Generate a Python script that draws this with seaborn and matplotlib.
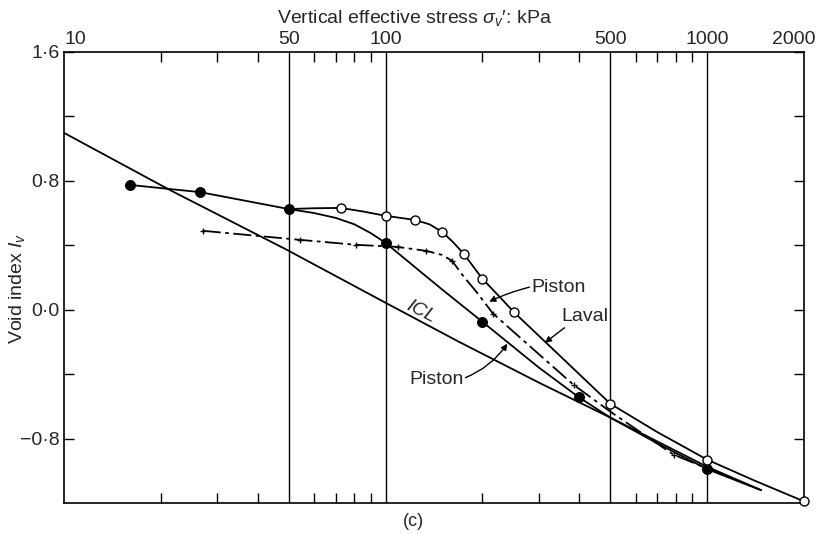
import matplotlib
matplotlib.use("Agg")
import matplotlib.pyplot as plt
import matplotlib.transforms as mtransforms
import seaborn as sns
import pandas as pd
from matplotlib.ticker import FixedLocator, FixedFormatter, NullFormatter

# Measured points (vertical effective stress in kPa, void index Iv)
piston_a_stress = [16, 26.5, 50, 100, 200, 400, 1000]
piston_a_iv = [0.775, 0.73, 0.625, 0.415, -0.075, -0.545, -0.99]

laval_stress = [72.5, 100, 123, 150, 175, 200, 250, 500, 1000, 2000]
laval_iv = [0.632, 0.583, 0.558, 0.483, 0.347, 0.192, -0.013, -0.584, -0.931, -1.19]

piston_b_stress = [27, 54, 81, 109, 134, 161, 216, 384, 786]
piston_b_iv = [0.49, 0.434, 0.403, 0.39, 0.365, 0.303, -0.025, -0.466, -0.90]

# Traced curves through the measured points
piston_a_curve_stress = [16, 26.5, 50, 60, 70, 80, 90, 100, 125, 150, 200, 300, 400,
                         500, 700, 1000, 1470]
piston_a_curve_iv = [0.775, 0.73, 0.625, 0.60, 0.57, 0.53, 0.475, 0.415, 0.255, 0.125,
                     -0.075, -0.36, -0.545, -0.67, -0.83, -0.99, -1.12]

laval_curve_stress = [50, 60, 72.5, 85, 100, 123, 137, 150, 162, 175, 187, 200, 225, 250,
                      350, 500, 700, 1000, 1400, 2000]
laval_curve_iv = [0.625, 0.63, 0.632, 0.61, 0.583, 0.558, 0.53, 0.483, 0.42, 0.347, 0.27,
                  0.192, 0.085, -0.013, -0.29, -0.584, -0.76, -0.931, -1.06, -1.19]

piston_b_curve_stress = [27, 54, 81, 109, 134, 150, 161, 175, 190, 216, 300, 384, 500,
                         786, 1000, 1470]
piston_b_curve_iv = [0.49, 0.434, 0.403, 0.39, 0.365, 0.34, 0.303, 0.205, 0.12, -0.025,
                     -0.277, -0.466, -0.633, -0.90, -0.985, -1.12]

icl_stress = [10, 21.3, 49.3, 100, 169, 300, 500, 1000, 1470]
icl_iv = [1.098, 0.744, 0.372, 0.043, -0.199, -0.453, -0.67, -0.975, -1.12]

top_ticks = [10, 50, 100, 500, 1000, 2000]
top_tick_labels = ["10", "50", "100", "500", "1000", "2000"]
minor_x = [20, 30, 40, 60, 70, 80, 90, 200, 300, 400, 600, 700, 800, 900]
grid_x = [50, 100, 500, 1000]
y_major = [1.6, 0.8, 0.0, -0.8]
y_major_labels = ["1·6", "0·8", "0·0", "−0·8"]
y_minor = [1.2, 0.4, -0.4]

sns.set_theme(style="ticks")
plt.rcParams["font.family"] = ["Liberation Sans", "DejaVu Sans"]
plt.rcParams["mathtext.fontset"] = "custom"
plt.rcParams["mathtext.rm"] = "Liberation Sans"
plt.rcParams["mathtext.it"] = "Liberation Sans:italic"

fig = plt.figure(figsize=(8.24, 5.34), dpi=100)
ax = fig.add_axes([64 / 824, 1 - 503 / 534, 740 / 824, 451 / 534])

ax.set_xscale("log")
ax.set_xlim(10, 2000)
ax.set_ylim(-1.2, 1.6)

lw = 1.3
for xs, ys, ls in [
    (icl_stress, icl_iv, "-"),
    (piston_a_curve_stress, piston_a_curve_iv, "-"),
    (laval_curve_stress, laval_curve_iv, "-"),
    (piston_b_curve_stress, piston_b_curve_iv, (0, (10, 2.5, 2, 2.5))),
]:
    df = pd.DataFrame({"s": xs, "iv": ys})
    sns.lineplot(data=df, x="s", y="iv", sort=False, estimator=None, ax=ax,
                 color="black", linewidth=lw, linestyle=ls)

# vertical reference lines
for g in grid_x:
    ax.axvline(g, color="black", linewidth=1.0, zorder=1)

sns.scatterplot(x=piston_a_stress, y=piston_a_iv, ax=ax, marker="o", s=50,
                color="black", edgecolor="black", linewidth=0.8, zorder=5)
sns.scatterplot(x=laval_stress, y=laval_iv, ax=ax, marker="o", s=42,
                facecolor="white", edgecolor="black", linewidth=1.0, zorder=5,
                clip_on=False)
sns.scatterplot(x=piston_b_stress, y=piston_b_iv, ax=ax, marker="+", s=24,
                color="black", linewidth=1.0, zorder=5)

# axes: labels on top, inward ticks on all sides
for sp in ax.spines.values():
    sp.set_color("black")
    sp.set_linewidth(1.2)

ax.xaxis.set_major_locator(FixedLocator(top_ticks))
ax.xaxis.set_major_formatter(FixedFormatter(top_tick_labels))
ax.xaxis.set_minor_locator(FixedLocator(minor_x))
ax.xaxis.set_minor_formatter(NullFormatter())
ax.xaxis.tick_top()
ax.tick_params(axis="x", which="major", top=True, bottom=False, length=0,
               labeltop=True, labelbottom=False, labelsize=14, pad=3)
ax.tick_params(axis="x", which="minor", top=True, bottom=True, direction="in",
               length=7, width=1.0, color="black")
for lab in ax.get_xticklabels():
    if lab.get_text() == "10":
        lab.set_horizontalalignment("left")
    if lab.get_text() == "2000":
        lab.set_transform(lab.get_transform() + mtransforms.ScaledTranslation(
            -10 / 100, 0, fig.dpi_scale_trans))

ax.yaxis.set_major_locator(FixedLocator(y_major))
ax.yaxis.set_major_formatter(FixedFormatter(y_major_labels))
ax.yaxis.set_minor_locator(FixedLocator(y_minor))
ax.tick_params(axis="y", which="both", left=True, right=True, direction="in",
               length=7, width=1.0, color="black", labelsize=14, pad=3)

ax.set_xlabel("")
ax.set_ylabel(r"Void index $I_v$", fontsize=14)
ax.yaxis.set_label_coords(-0.05, 0.477)

fig.text(415 / 824, 1 - 18 / 534, r"Vertical effective stress $\sigma_v$′: kPa",
         ha="center", va="center", fontsize=14)
fig.text(413 / 824, 1 - 522 / 534, "(c)", ha="center", va="center", fontsize=13)

# curve labels
ax.text(129, -0.013, "ICL", rotation=-27, ha="center", va="center",
        fontsize=14, style="italic")
arrow = dict(arrowstyle="-|>", color="black", lw=1.0, mutation_scale=9,
             shrinkA=0, shrinkB=0)
ax.text(283, 0.136, "Piston", fontsize=14, ha="left", va="center")
ax.annotate("", xy=(210, 0.05), xytext=(280, 0.14),
            arrowprops=dict(arrow, connectionstyle="arc3,rad=0.05"))
ax.text(353, -0.044, "Laval", fontsize=14, ha="left", va="center")
ax.annotate("", xy=(313, -0.205), xytext=(360, -0.112),
            arrowprops=dict(arrow, connectionstyle="arc3,rad=0.0"))
ax.text(175, -0.435, "Piston", fontsize=14, ha="right", va="center")
ax.annotate("", xy=(239, -0.211), xytext=(177, -0.422),
            arrowprops=dict(arrow, connectionstyle="arc3,rad=0.15"))

fig.savefig("out.png", dpi=100)
